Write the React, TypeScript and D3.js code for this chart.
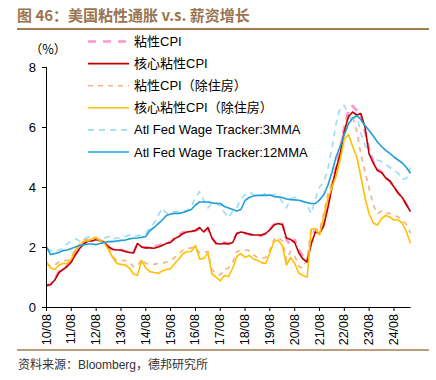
import React from "react";
import * as d3 from "d3";

// bi-monthly observations from 2010-08 to 2025-04
const START = new Date(2010, 7, 1);
const N = 89;
const dates: Date[] = d3.range(N).map((i) => d3.timeMonth.offset(START, 2 * i));

const tickLabels = ["10/08","11/08","12/08","13/08","14/08","15/08","16/08","17/08","18/08","19/08","20/08","21/08","22/08","23/08","24/08"];
const yTicks = [0, 2, 4, 6, 8];

const stickyCPI = [0.7,0.75,0.95,1.18,1.28,1.38,1.5,1.75,1.95,2.12,2.22,2.22,2.28,2.22,2.15,2.0,1.93,1.9,1.9,1.87,1.84,1.82,2.1,2.0,1.98,2.0,2.02,2.05,2.08,2.12,2.18,2.3,2.4,2.5,2.5,2.52,2.55,2.6,2.5,2.62,2.3,2.12,2.12,2.15,2.12,2.18,2.45,2.5,2.45,2.42,2.4,2.38,2.38,2.45,2.6,2.75,2.8,2.78,2.25,2.05,2.25,1.9,1.7,1.55,2.25,2.6,2.5,2.8,3.4,4.1,4.65,5.25,6.0,6.55,6.7,6.55,6.4,5.85,5.25,4.85,4.6,4.5,4.3,4.2,4.0,3.8,3.65,3.42,3.2];
const coreStickyCPI = [0.72,0.75,0.9,1.15,1.25,1.35,1.5,1.75,1.95,2.1,2.2,2.2,2.25,2.2,2.15,2.0,1.92,1.9,1.9,1.85,1.82,1.8,2.12,2.0,1.97,1.97,1.96,2.0,2.05,2.12,2.15,2.28,2.35,2.45,2.5,2.52,2.55,2.65,2.5,2.65,2.3,2.12,2.1,2.12,2.1,2.15,2.45,2.5,2.47,2.43,2.4,2.4,2.4,2.45,2.57,2.73,2.78,2.75,2.3,2.25,2.15,1.8,1.6,1.5,2.1,2.5,2.45,2.7,3.3,4.0,4.6,5.1,5.85,6.35,6.5,6.4,6.45,6.0,5.1,4.8,4.55,4.48,4.3,4.2,4.0,3.8,3.65,3.4,3.18];
const stickyExShelter = [1.45,1.35,1.4,1.5,1.55,1.55,1.65,1.95,2.1,2.25,2.25,2.3,2.32,2.25,2.18,1.95,1.7,1.55,1.55,1.55,1.5,1.35,1.35,1.6,1.45,1.42,1.42,1.45,1.45,1.5,1.55,1.65,1.78,1.9,1.95,1.97,2.0,1.8,1.82,1.85,1.25,1.1,1.07,1.25,1.3,1.5,1.84,1.9,1.9,1.88,1.75,1.65,1.62,1.65,1.9,2.25,2.34,2.2,1.55,1.85,1.7,1.35,1.3,1.6,2.65,2.55,2.55,3.1,3.75,4.15,4.55,5.35,6.0,6.35,6.35,5.85,5.1,4.5,3.95,3.4,3.1,3.2,3.12,3.12,3.08,3.0,2.9,2.75,2.46];
const coreStickyExShelter = [1.5,1.3,1.25,1.4,1.45,1.45,1.6,1.9,2.05,2.2,2.2,2.28,2.3,2.2,2.12,1.9,1.65,1.45,1.42,1.4,1.3,1.1,1.05,1.55,1.3,1.18,1.15,1.12,1.2,1.25,1.28,1.45,1.6,1.78,1.84,1.85,2.05,1.6,1.62,1.8,1.1,1.0,0.87,1.05,1.02,1.3,1.68,1.78,1.65,1.72,1.6,1.55,1.48,1.45,1.8,2.18,2.23,2.05,1.4,1.65,1.45,1.12,1.05,1.0,2.6,2.6,2.4,3.0,3.6,4.0,4.35,4.9,5.6,5.75,5.35,5.0,4.35,3.65,3.1,2.8,2.73,2.95,3.05,3.0,2.9,2.9,2.8,2.5,2.12];
const wage3MMA = [1.95,1.88,1.84,1.9,1.95,2.1,2.2,2.28,2.2,2.25,2.34,2.3,2.25,2.2,2.3,2.35,2.25,2.3,2.3,2.35,2.4,2.35,2.38,2.4,2.45,2.65,2.8,3.05,3.3,3.12,3.15,3.18,3.18,3.2,3.22,3.35,3.65,3.85,3.55,3.3,3.46,3.48,3.36,3.15,2.98,3.2,3.3,3.6,3.75,3.84,3.75,3.7,3.72,3.78,3.72,3.75,3.73,3.5,3.3,3.62,3.66,3.57,3.52,3.38,3.12,3.6,4.0,4.15,4.6,5.3,6.1,6.65,6.72,6.4,6.2,6.4,5.8,5.4,5.1,5.0,4.9,4.85,4.75,4.65,4.55,4.45,4.25,4.3,4.65];
const wage12MMA = [2.0,1.75,1.78,1.82,1.88,1.9,1.95,2.0,2.05,2.07,2.1,2.1,2.08,2.12,2.15,2.18,2.18,2.2,2.22,2.23,2.27,2.29,2.3,2.32,2.35,2.55,2.65,2.78,2.9,3.05,3.1,3.12,3.12,3.15,3.2,3.25,3.4,3.5,3.5,3.5,3.47,3.45,3.45,3.35,3.3,3.25,3.2,3.25,3.55,3.65,3.7,3.72,3.72,3.72,3.73,3.68,3.67,3.65,3.6,3.58,3.57,3.56,3.52,3.48,3.45,3.45,3.57,3.73,4.05,4.5,5.0,5.35,5.75,6.1,6.3,6.38,6.25,6.05,5.88,5.7,5.5,5.35,5.22,5.12,5.0,4.9,4.8,4.65,4.45];

const seriesNames = ["粘性CPI", "核心粘性CPI", "粘性CPI（除住房）", "核心粘性CPI（除住房）", "Atl Fed Wage Tracker:3MMA", "Atl Fed Wage Tracker:12MMA"];

const styles = [
  { color: "#FF99CC", width: 2.6, dash: "8,6", legendDash: "8,7" },
  { color: "#C00000", width: 1.6, dash: null, legendDash: null },
  { color: "#F4B183", width: 1.6, dash: "5,5", legendDash: "5,5" },
  { color: "#FFC000", width: 1.6, dash: null, legendDash: null },
  { color: "#9DDCF5", width: 1.6, dash: "6,5", legendDash: "6,5" },
  { color: "#1F9FDA", width: 1.6, dash: null, legendDash: null },
];

const allSeries = [stickyCPI, coreStickyCPI, stickyExShelter, coreStickyExShelter, wage3MMA, wage12MMA];

const FONT = "'Liberation Sans', Arial, 'Noto Sans CJK SC', sans-serif";
const CJK = "'Noto Sans CJK SC', sans-serif";

export default function App() {
  const x = d3.scaleTime().domain([START, new Date(2025, 3, 1)]).range([46.5, 410.5]);
  const y = d3.scaleLinear().domain([0, 8]).range([307, 67]);
  const line = d3
    .line<[Date, number]>()
    .x((d) => x(d[0]))
    .y((d) => y(d[1]));

  const tickDates = tickLabels.map((_, i) => new Date(2010 + i, 7, 1));

  const drawOrder = [4, 0, 2, 1, 3, 5];

  return (
    <svg
      width={436}
      height={380}
      style={{ position: "absolute", left: 0, top: 0, background: "#fff" }}
      fontFamily={FONT}
    >
      <rect x={0} y={0} width={436} height={380} fill="#fff" />
      {/* title */}
      <text x={17} y={21} fontSize={15} fontWeight="bold" fill="#9A7450" fontFamily={CJK}>
        图 46：美国粘性通胀 v.s. 薪资增长
      </text>
      <line x1={17} x2={429} y1={29} y2={29} stroke="#A67C52" strokeWidth={2} />

      {/* unit */}
      <text x={48} y={48} fontSize={12.5} textAnchor="middle" dominantBaseline="central" fill="#000" fontFamily={CJK}>
        （%）
      </text>

      {/* lines */}
      {drawOrder.map((k) => (
        <path
          key={k}
          d={line(allSeries[k].map((v, i) => [dates[i], v] as [Date, number])) || ""}
          fill="none"
          stroke={styles[k].color}
          strokeWidth={styles[k].width}
          strokeDasharray={styles[k].dash || undefined}
          strokeLinejoin="round"
        />
      ))}

      {/* y axis */}
      <line x1={46.5} x2={46.5} y1={y(8)} y2={y(0)} stroke="#000" strokeWidth={1} />
      {yTicks.map((t) => (
        <g key={t}>
          <line x1={42} x2={46.5} y1={y(t) + 0.5} y2={y(t) + 0.5} stroke="#000" />
          <text x={36} y={y(t)} fontSize={13} textAnchor="end" dominantBaseline="central" fill="#000">
            {t}
          </text>
        </g>
      ))}

      {/* x axis */}
      <line x1={46.5} x2={410.7} y1={307.5} y2={307.5} stroke="#000" strokeWidth={1} />
      {tickDates.map((d, i) => (
        <g key={i}>
          <line x1={x(d)} x2={x(d)} y1={307} y2={311} stroke="#000" />
          <text
            transform={`translate(${x(d)},314) rotate(-90)`}
            fontSize={12.5}
            textAnchor="end"
            dominantBaseline="central"
            fill="#000"
          >
            {tickLabels[i]}
          </text>
        </g>
      ))}

      {/* legend */}
      {seriesNames.map((name, i) => {
        const ly = 41.5 + i * 22.1;
        return (
          <g key={name}>
            <line
              x1={88}
              x2={129}
              y1={ly}
              y2={ly}
              stroke={styles[i].color}
              strokeWidth={styles[i].width}
              strokeDasharray={styles[i].legendDash || undefined}
            />
            <text x={134} y={ly} fontSize={13} dominantBaseline="central" fill="#000">
              {name}
            </text>
          </g>
        );
      })}

      {/* bottom rule and source */}
      <line x1={17} x2={429} y1={350} y2={350} stroke="#A67C52" strokeWidth={1.5} />
      <text x={18} y={365} fontSize={12} dominantBaseline="central" fill="#333">
        资料来源：Bloomberg，德邦研究所
      </text>
    </svg>
  );
}
